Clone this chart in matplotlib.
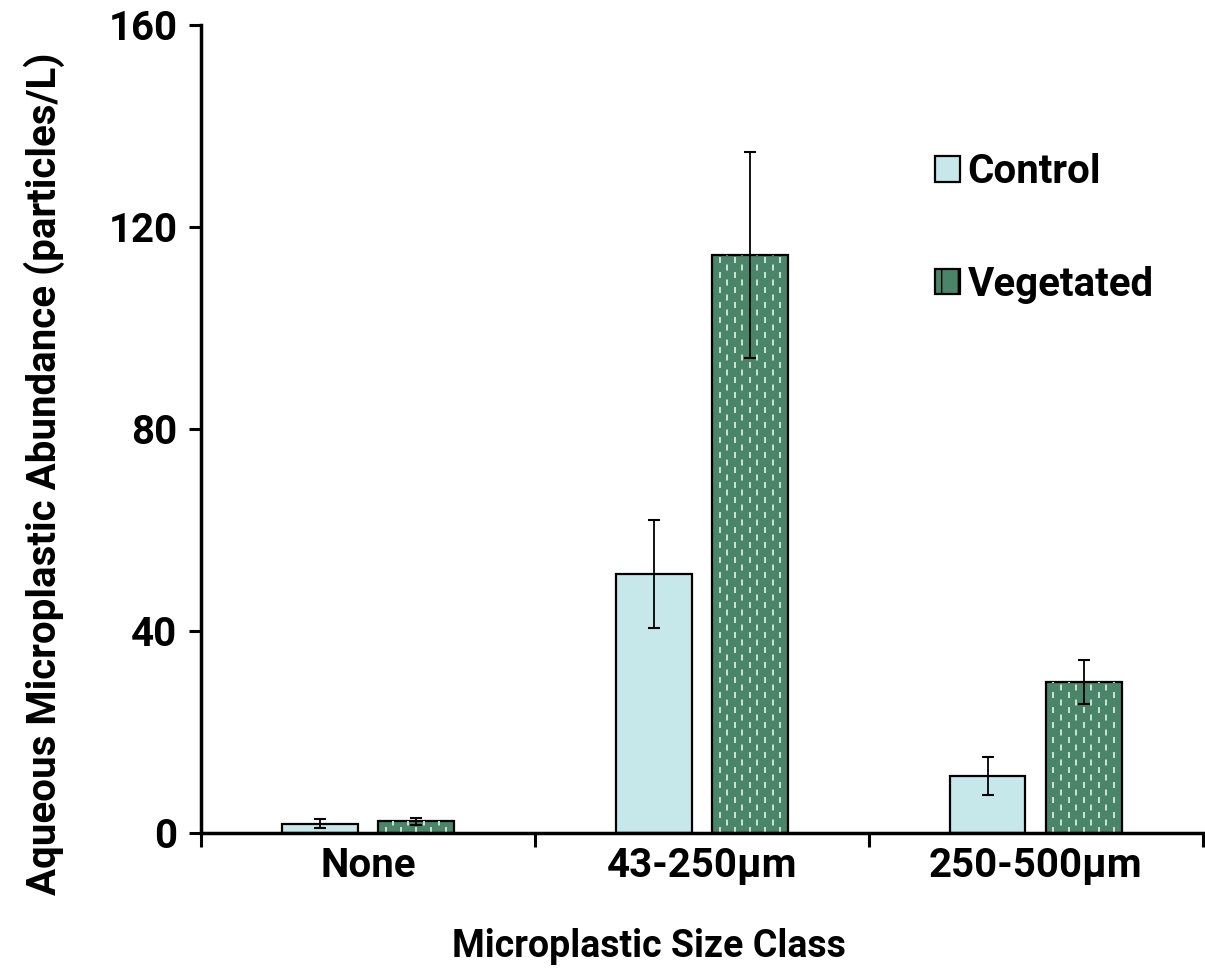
import matplotlib
matplotlib.use('Agg')
import matplotlib.pyplot as plt
import numpy as np
from matplotlib.patches import Patch
from matplotlib.collections import LineCollection

categories = ["None", "43-250µm", "250-500µm"]
control = [1.8, 51.3, 11.3]
control_err = [0.9, 10.7, 3.7]
vegetated = [2.3, 114.4, 29.9]
vegetated_err = [0.7, 20.4, 4.4]
y_ticks = [0, 40, 80, 120, 160]

plt.rcParams['font.family'] = ['Roboto', 'DejaVu Sans']
plt.rcParams['font.weight'] = 'bold'
plt.rcParams['lines.scale_dashes'] = False

ctrl_color = '#c6e8ea'
veg_color = '#4a8469'
dash_color = '#c9e6d6'
plt.rcParams['hatch.color'] = dash_color
fs = 29

fig = plt.figure(figsize=(12.05, 9.74), dpi=100)
ax = fig.add_axes([0.1668, 0.1448, 0.8312, 0.8295])

x = np.arange(len(categories))
w = 0.227
off = 0.144

ax.bar(x - off, control, w, color=ctrl_color, edgecolor='black', linewidth=1.6, zorder=2)
veg_bars = ax.bar(x + off, vegetated, w, color=veg_color, edgecolor='black', linewidth=1.6, zorder=2)

# staggered dashed vertical texture inside the vegetated bars
for bar in veg_bars:
    x0, bw, h = bar.get_x(), bar.get_width(), bar.get_height()
    ncol = 9
    for k in range(ncol):
        xc = x0 + bw * (k + 1) / (ncol + 1)
        phase = 0 if k % 2 == 0 else 5.4
        lc = LineCollection([[(xc, 0), (xc, h)]], colors=dash_color, linewidths=1.4,
                            linestyles=[(phase, (4.3, 6.5))], zorder=2.5)
        lc.set_clip_path(bar)
        ax.add_collection(lc)

ax.errorbar(x - off, control, yerr=control_err, fmt='none', ecolor='black',
            elinewidth=1.3, capsize=4.5, capthick=1.5, zorder=3)
ax.errorbar(x + off, vegetated, yerr=vegetated_err, fmt='none', ecolor='black',
            elinewidth=1.3, capsize=4.5, capthick=1.5, zorder=3)

ax.set_xlim(-0.5, len(categories) - 0.5)
ax.set_ylim(0, 160)
ax.set_yticks(y_ticks)
ax.set_xticks(np.arange(len(categories) + 1) - 0.5)
ax.set_xticklabels([])
ax.set_xticks(x, minor=True)
ax.set_xticklabels(categories, minor=True, fontsize=fs, fontweight='bold')
ax.tick_params(axis='x', which='minor', length=0, pad=10)
ax.tick_params(axis='x', which='major', direction='out', length=10, width=2.2)
ax.tick_params(axis='y', direction='out', length=9, width=2.2, labelsize=fs, pad=8)
for lab in ax.get_yticklabels():
    lab.set_fontweight('bold')

for s in ['top', 'right']:
    ax.spines[s].set_visible(False)
for s in ['left', 'bottom']:
    ax.spines[s].set_linewidth(2.5)

ax.set_ylabel("Aqueous Microplastic Abundance (particles/L)", fontsize=fs,
              fontweight='bold', va='center')
ax.yaxis.set_label_coords(-0.156, 0.445)
ax.set_xlabel("Microplastic Size Class", fontsize=27, fontweight='bold', va='center')
ax.xaxis.set_label_coords(0.447, -0.14)

handles = [Patch(facecolor=ctrl_color, edgecolor='black', linewidth=1.6, label='Control'),
           Patch(facecolor=veg_color, edgecolor='black', linewidth=1.6, hatch='|',
                 label='Vegetated')]
leg = ax.legend(handles=handles, loc='upper left', bbox_to_anchor=(0.697, 0.886),
                frameon=False, fontsize=fs, handlelength=0.6, handleheight=0.6,
                handletextpad=0.2, labelspacing=1.85)
for t in leg.get_texts():
    t.set_fontweight('bold')

fig.savefig('out.png', dpi=100)
